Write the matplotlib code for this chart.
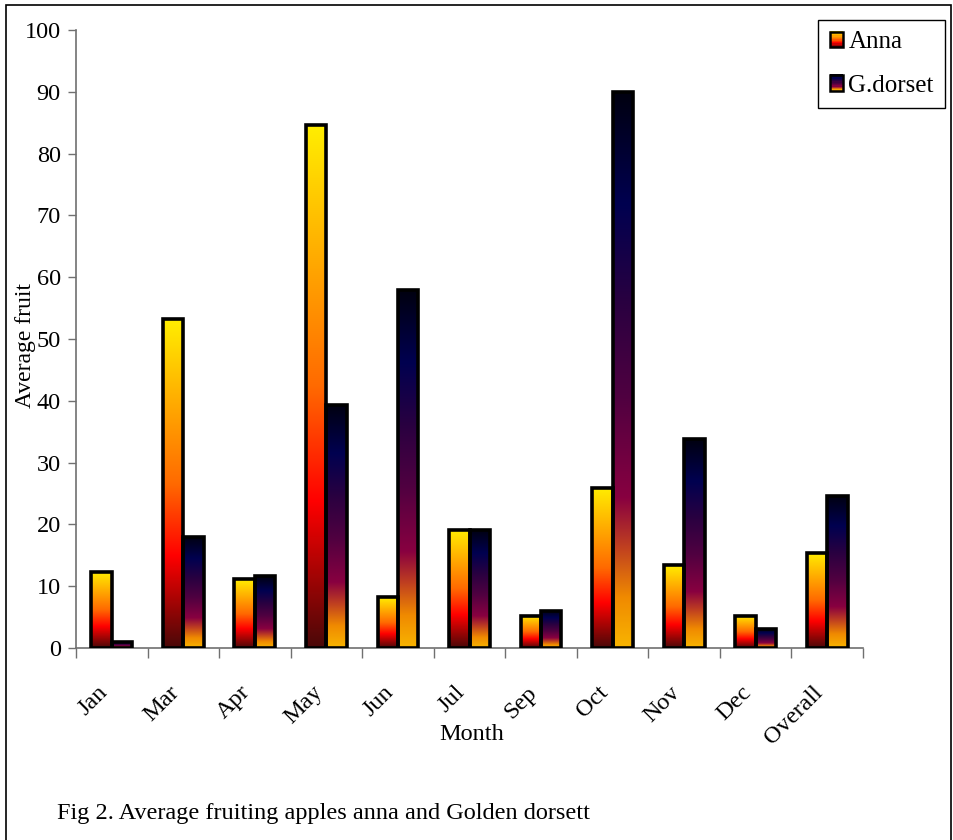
import numpy as np
import matplotlib
matplotlib.use("Agg")
import matplotlib.pyplot as plt
from matplotlib.colors import LinearSegmentedColormap
from matplotlib.legend_handler import HandlerBase
from matplotlib.patches import Rectangle

plt.rcParams["font.family"] = ["Liberation Serif", "DejaVu Serif"]

months = ["Jan", "Mar", "Apr", "May", "Jun", "Jul", "Sep", "Oct", "Nov", "Dec", "Overall"]
anna = [12.3, 53.2, 11.1, 84.7, 8.2, 19.1, 5.2, 25.9, 13.4, 5.2, 15.4]
gdorset = [1.0, 18.0, 11.6, 39.4, 57.9, 19.1, 6.0, 89.9, 33.8, 3.0, 24.6]
yticks = list(range(0, 101, 10))

# bottom -> top colour ramps used inside every bar
anna_cmap = LinearSegmentedColormap.from_list("anna", [
    (0.00, "#4a0808"), (0.28, "#ff0000"), (0.50, "#ff6a00"),
    (0.78, "#ffb400"), (1.00, "#ffee00")])
dorset_cmap = LinearSegmentedColormap.from_list("dorset", [
    (0.00, "#f8b400"), (0.09, "#f08a00"), (0.18, "#c04020"),
    (0.27, "#880040"), (0.45, "#500040"), (0.62, "#2a0040"),
    (0.80, "#000050"), (1.00, "#000010")])

FS = 17
W, H = 954, 840
fig = plt.figure(figsize=(W / 100, H / 100), dpi=100, facecolor="white")
ax = fig.add_axes([76 / W, 1 - 648 / H, (863 - 76) / W, (648 - 30) / H])

grad = np.linspace(0, 1, 256).reshape(-1, 1)
bw = 0.285
xc = np.arange(len(months)) + 0.5


def gradient_bars(xs, vals, cmap):
    bars = ax.bar(xs, vals, bw, facecolor="none", edgecolor="black",
                  linewidth=2.6, zorder=3)
    for b in bars:
        x0, h = b.get_x(), b.get_height()
        ax.imshow(grad, cmap=cmap, origin="lower", aspect="auto",
                  extent=[x0, x0 + bw, 0, h], zorder=2, interpolation="bilinear")
    return bars


gradient_bars(xc - bw / 2, anna, anna_cmap)
gradient_bars(xc + bw / 2, gdorset, dorset_cmap)

ax.set_xlim(0, len(months))
ax.set_ylim(0, 100)
ax.set_yticks(yticks)
ax.set_xticks(np.arange(len(months) + 1))
ax.set_xticklabels([])
ax.tick_params(axis="y", direction="out", length=6, width=1, color="#707070",
               labelsize=FS + 0.5, pad=5)
ax.tick_params(axis="x", direction="out", length=7, width=1, color="#707070")
for s in ("top", "right"):
    ax.spines[s].set_visible(False)
for s in ("left", "bottom"):
    ax.spines[s].set_color("#707070")
    ax.spines[s].set_linewidth(1.2)

# rotated month labels below each group
for x, lab in zip(xc, months):
    ax.text(x, -0.055, lab, transform=ax.get_xaxis_transform(), rotation=45,
            ha="right", va="top", fontsize=FS + 0.5)

fig.text(472 / W, 1 - 734 / H, "Month", ha="center", va="center", fontsize=FS + 0.5)
fig.text(26 / W, 1 - 346 / H, "Average fruit", rotation=90,
         ha="center", va="center", fontsize=FS)
fig.text(57 / W, 1 - 814 / H, "Fig 2. Average fruiting apples anna and Golden dorsett",
         ha="left", va="center", fontsize=FS + 0.5)


class GradientHandler(HandlerBase):
    def __init__(self, cmap):
        super().__init__()
        self.cmap = cmap

    def create_artists(self, legend, orig_handle, xdescent, ydescent,
                       width, height, fontsize, trans):
        n = 12
        artists = []
        for i in range(n):
            artists.append(Rectangle((-xdescent, -ydescent + height * i / n),
                                     width, height / n + 0.3,
                                     facecolor=self.cmap((i + 0.5) / n),
                                     edgecolor="none", transform=trans))
        artists.append(Rectangle((-xdescent, -ydescent), width, height,
                                 facecolor="none", edgecolor="black",
                                 linewidth=1.8, transform=trans))
        return artists


h_anna = Rectangle((0, 0), 1, 1)
h_dors = Rectangle((0, 0), 1, 1)
leg = ax.legend([h_anna, h_dors], ["Anna", "G.dorset"],
                handler_map={h_anna: GradientHandler(anna_cmap),
                             h_dors: GradientHandler(dorset_cmap)},
                loc="upper right", bbox_to_anchor=(945 / W, 1 - 20 / H),
                bbox_transform=fig.transFigure, fontsize=FS + 1, fancybox=False,
                framealpha=1, edgecolor="black", handlelength=0.55,
                handleheight=0.6, handletextpad=0.2, labelspacing=0.85,
                borderpad=0.45, borderaxespad=0)
leg.get_frame().set_linewidth(1)

# outer frame around the whole figure
fig.patches.append(Rectangle((6 / W, -0.05), (951 - 6) / W, 1.05 - 5 / H,
                             transform=fig.transFigure, facecolor="none",
                             edgecolor="black", linewidth=1.2))

fig.savefig("out.png", dpi=100, facecolor="white")
